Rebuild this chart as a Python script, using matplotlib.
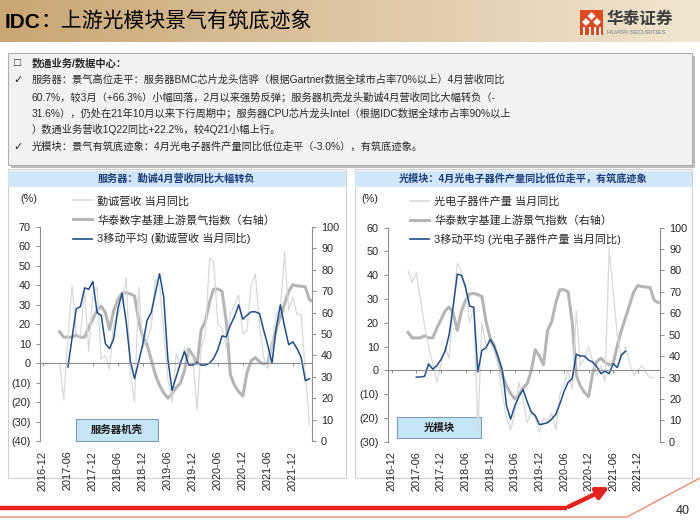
import matplotlib.pyplot as plt
import numpy as np
from matplotlib.patches import Rectangle, Polygon
from matplotlib.lines import Line2D

plt.rcParams['font.family'] = ['Liberation Sans', 'Noto Sans CJK SC', 'DejaVu Sans']

# ---- data (month index: 0 = 2016-12) ----
tick_pos = [0, 6, 12, 18, 24, 30, 36, 42, 48, 54, 60]
tick_labels = ['2016-12', '2017-06', '2017-12', '2018-06', '2018-12', '2019-06',
               '2019-12', '2020-06', '2020-12', '2021-06', '2021-12']

# 华泰数字基建上游景气指数, from 2017-04
index_start = 4
index_vals = [51, 48.5, 48.5, 48.5, 49.5, 48.5, 48.5, 53, 57, 61, 63, 60, 52, 61, 66, 69,
              69.3, 68.7, 67.8, 56, 48.5, 45, 38, 31, 26, 22.5, 20, 22, 25, 27, 33, 43,
              40, 36, 52, 56, 65, 71, 71, 70, 56, 31, 26, 23, 21, 32, 37.5, 39, 37, 36,
              36.5, 45, 52, 58, 64, 70, 73, 72.5, 72.3, 72, 66, 65]

# 勤诚营收 当月同比, from 2017-04
server_raw_start = 4
server_raw = [0, -19, 13, 40, 15, 14, 38, 6, 36, 39, 2, 4, -3, 20, 25, 30, 44, -5, -20, 39,
              8, 12, 18, 43, 40, 17, -8, -20, 5, -2, 8, 5, 3, -24, 8, 15, 54, 52, 20, 18,
              8, 25, 30, 35, 15, 17, 40, 46, 20, 3, -3, 10, 25, 27, 57, 27, 34, 25, 25, -5,
              -32]

# 3移动平均 (勤诚营收 当月同比), from 2017-06
server_ma_start = 6
server_ma = [-2, 13, 28, 29, 38.7, 38, 42, 26, 24.5, 10, 7.5, 12.7, 28, 36, 21, 1, -8, 1,
             10, 22, 26, 36, 46, 34, 2, -14, -7, 0, 6, -1, -1, 0.5, -1, -1, 0, 2.5, 7, 14,
             13.5, 19.5, 24, 30, 22.6, 24.7, 26.4, 26.4, 25.5, 17, 9, 0, 18, 30, 19, 9.5,
             11, 7.5, 3, -9, -8]

# 光电子器件产量 当月同比, from 2017-04
optic_raw_start = 4
optic_raw = [42, 37, 41, 30, 19, 10, 3, -5, 2, 10, 5, 28, 45, 42, 35, 20, 27, -25, 20, 10,
             12, 8, 2, -10, -20, -25, -18, -5, -12, -22, -18, -20, -26, -20, -22, -18, -25,
             -10, -6, 0, -8, 25, 2, 5, 10, 4, -2, 2, -5, 51, 33, 15, 5, 10, 3, -2, 0, 2,
             -1, -3, -3]

# 3移动平均 (光电子器件产量 当月同比), from 2017-06
optic_ma_start = 6
optic_ma = [-2.8, -2.8, -2.5, 2.7, 0.5, 2, 4.5, 8, 15, 27, 40.5, 40, 35, 27, 26.5, -0.7,
            8.5, 9.5, 13, 10, 5.5, 0, -15, -20.5, -15, -11, -8, -13, -17.5, -19, -22.8,
            -22.5, -22, -20.5, -18.5, -14, -9, -5, -3.5, 6.8, 6, 6, 4.3, 3.5, 1.5, -1.4,
            -0.3, -1.4, 2.8, 1.2, 6.5, 8]

C_RAW = '#d9d9d9'
C_IDX = '#b5b5b5'
C_MA = '#1f4e8c'
C_AX = '#8c8c8c'
C_TXT = '#262626'

W, H = 700, 525
fig = plt.figure(figsize=(7, 5.25), dpi=100)
fig.patch.set_facecolor('white')

# ---- slide background drawn in pixel coords ----
bg = fig.add_axes([0, 0, 1, 1])
bg.axis('off')

grad = np.linspace(0, 1, 256)[None, :, None]
c0 = np.array([0.79, 0.65, 0.45])
c1 = np.array([0.94, 0.90, 0.82])
bg.imshow(c0 + (c1 - c0) * grad, extent=(0, W, 42, 0), aspect='auto', zorder=0)
bg.set_xlim(0, W)
bg.set_ylim(H, 0)

bg.text(5, 22, 'IDC', fontsize=15, fontweight='bold', va='center', color='black')
bg.text(40, 22, '：上游光模块景气有筑底迹象', fontsize=15, va='center', color='black',
        family=['Noto Sans CJK SC'])

# logo
bg.add_patch(Rectangle((580, 10), 23, 25, facecolor='#e0481f', edgecolor='none'))
for cx, cy in [(591.5, 16), (586, 22), (597, 22)]:
    bg.add_patch(Polygon([(cx, cy - 4), (cx + 4, cy), (cx, cy + 4), (cx - 4, cy)],
                         facecolor='white', edgecolor='none'))
for lx in [584, 589.5, 595, 600]:
    bg.add_patch(Rectangle((lx - 1, 27), 2, 8, facecolor='white', edgecolor='none'))
bg.text(607, 19, '华泰证券', fontsize=12, fontweight='bold', va='center', color='#3d3d3d',
        family=['Noto Sans CJK SC'])
bg.text(607, 32, 'HUATAI SECURITIES', fontsize=4.3, va='center', color='#777777')

# text box
bg.add_patch(Rectangle((11, 56), 684, 112, facecolor='#bdbdbd', edgecolor='none', zorder=1))
bg.add_patch(Rectangle((8, 53), 684, 112, facecolor='#f2f2f2', edgecolor='#b0b0b0',
                       lw=0.8, zorder=2))
fs = 7.4
bg.text(14, 63, '□', fontsize=8.5, va='center', color=C_TXT, zorder=3, fontweight='bold')
bg.text(32, 63, '数通业务/数据中心：', fontsize=fs, fontweight='bold', va='center', color=C_TXT, zorder=3)
lines = [
    (80, '✓', '服务器：景气高位走平：服务器BMC芯片龙头信骅（根据Gartner数据全球市占率70%以上）4月营收同比'),
    (97, '', '60.7%，较3月（+66.3%）小幅回落，2月以来强势反弹；服务器机壳龙头勤诚4月营收同比大幅转负（-'),
    (113, '', '31.6%），仍处在21年10月以来下行周期中；服务器CPU芯片龙头Intel（根据IDC数据全球市占率90%以上'),
    (129, '', '）数通业务营收1Q22同比+22.2%，较4Q21小幅上行。'),
    (147, '✓', '光模块：景气有筑底迹象：4月光电子器件产量同比低位走平（-3.0%），有筑底迹象。'),
]
for y, mark, txt in lines:
    if mark:
        bg.text(13, y, mark, fontsize=8, va='center', color=C_TXT, zorder=3,
                family=['DejaVu Sans'])
    bg.text(32, y, txt, fontsize=fs, va='center', color=C_TXT, zorder=3)

# chart panels and title bars
for x0, x1, title in [(8, 346, '服务器：勤诚4月营收同比大幅转负'),
                      (355, 692, '光模块：4月光电子器件产量同比低位走平，有筑底迹象')]:
    bg.add_patch(Rectangle((x0, 169), x1 - x0, 309, facecolor='white', edgecolor='#d0d0d0',
                           lw=0.8, zorder=1))
    bg.add_patch(Rectangle((x0, 171), x1 - x0, 16, facecolor='#cfe7f8', edgecolor='none', zorder=2))
    bg.text((x0 + x1) / 2, 179, title, fontsize=7.3, fontweight='bold', ha='center',
            va='center', color='#1f3d7a', zorder=3)

bg.text(20, 199, '(%)', fontsize=7.8, va='center', color=C_TXT, zorder=3)
bg.text(361, 199, '(%)', fontsize=7.8, va='center', color=C_TXT, zorder=3)

# bottom decoration
bg.plot([0, 567], [508, 508], color='#e3201b', lw=3.2, solid_capstyle='butt', zorder=3)
bg.annotate('', xy=(612, 486), xytext=(566, 508),
            arrowprops=dict(arrowstyle='-|>,head_width=0.35,head_length=0.7',
                            color='#e3201b', lw=3.2), zorder=3)
bg.plot([0, 627, 700], [517, 517, 478], color='#f08c6c', lw=1.0, zorder=3)
bg.text(683, 511, '40', fontsize=9, ha='center', va='center', color=C_TXT, zorder=3)


def fmt_left(v):
    return f'({abs(v)})' if v < 0 else f'{v}'


def make_chart(rect, xlim, ylim, yticks, raw_x, raw_y, ma_x, ma_y, idx_x, idx_y):
    ax = fig.add_axes(rect)
    ax2 = ax.twinx()
    ax.set_zorder(ax2.get_zorder() + 1)
    ax.patch.set_visible(False)

    ax2.plot(idx_x, idx_y, color=C_IDX, lw=2.2, solid_joinstyle='round')
    ax.plot(raw_x, raw_y, color=C_RAW, lw=0.9)
    ax.plot(ma_x, ma_y, color=C_MA, lw=1.1)

    ax.set_xlim(*xlim)
    ax.set_ylim(*ylim)
    ax.set_yticks(yticks)
    ax.set_yticklabels([fmt_left(v) for v in yticks])
    ax2.set_ylim(0, 100)
    ax2.set_yticks(range(0, 101, 10))

    for a in (ax, ax2):
        for s in a.spines.values():
            s.set_visible(False)
        a.tick_params(labelsize=7.8, colors=C_TXT, length=3, width=0.7)
    ax.spines['left'].set_visible(True)
    ax.spines['left'].set_color(C_AX)
    ax2.spines['right'].set_visible(True)
    ax2.spines['right'].set_color(C_AX)
    ax.tick_params(axis='y', color=C_AX)
    ax2.tick_params(axis='y', color=C_AX)

    ax.spines['bottom'].set_visible(True)
    ax.spines['bottom'].set_position(('data', 0))
    ax.spines['bottom'].set_color(C_AX)
    ax.set_xticks(tick_pos)
    ax.tick_params(axis='x', labelbottom=False, color=C_AX, length=2.5)

    sec = ax.secondary_xaxis('bottom')
    sec.set_xticks(tick_pos)
    sec.set_xticklabels(tick_labels, rotation=90)
    sec.tick_params(length=0, pad=7, labelsize=7.8, colors=C_TXT)
    sec.spines['bottom'].set_visible(False)
    return ax


def xs(start, vals):
    return np.arange(start, start + len(vals))


ax_l = make_chart([40 / W, 1 - 441 / H, 272 / W, 214 / H], (-0.7, 64.6), (-40, 70),
                  list(range(-40, 71, 10)),
                  xs(server_raw_start, server_raw), server_raw,
                  xs(server_ma_start, server_ma), server_ma,
                  xs(index_start, index_vals), index_vals)
ax_r = make_chart([388 / W, 1 - 441.7 / H, 272 / W, 214 / H], (-0.9, 65.4), (-30, 60),
                  list(range(-30, 61, 10)),
                  xs(optic_raw_start, optic_raw), optic_raw,
                  xs(optic_ma_start, optic_ma), optic_ma,
                  xs(index_start, index_vals), index_vals)

leg_handles = [Line2D([], [], color=C_RAW, lw=1.2), Line2D([], [], color=C_IDX, lw=2.2),
               Line2D([], [], color=C_MA, lw=1.2)]
for x0, name in [(73, '勤诚营收 当月同比'), (410, '光电子器件产量 当月同比')]:
    fig.legend(leg_handles, [name, '华泰数字基建上游景气指数（右轴）', f'3移动平均 ({name})'],
               loc='upper left', bbox_to_anchor=(x0 / W, 1 - 196 / H), frameon=False,
               borderpad=0, borderaxespad=0, handlelength=1.7, handletextpad=0.5,
               labelspacing=0.72, fontsize=8, labelcolor=C_TXT)

# inset labels
for x0, y0, w, h, label in [(76, 419, 82, 22, '服务器机壳'), (397, 417, 84, 21, '光模块')]:
    bg.add_patch(Rectangle((x0, y0), w, h, facecolor='#c4e5f6', edgecolor='#7d9db5',
                           lw=0.8, zorder=5))
    bg.text(x0 + w / 2, y0 + h / 2, label, fontsize=7.5, fontweight='bold', ha='center',
            va='center', color='#1a1a1a', zorder=6)
bg.set_zorder(0)

fig.savefig('out.png', dpi=100)
